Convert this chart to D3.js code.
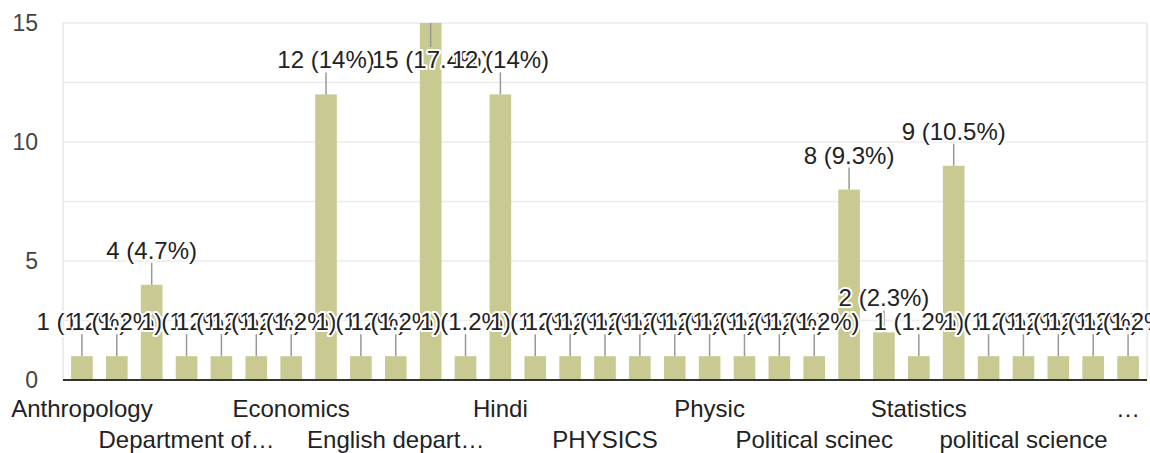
<!DOCTYPE html>
<html lang="en">
<head>
  <meta charset="UTF-8">
  <title>Department</title>
  <style>
    body { margin: 0; background: #fff; }
    text { font-family: Arial, "Liberation Sans", sans-serif; }
  </style>
</head>
<body>
  <svg id="svg" width="1150" height="453"></svg>

  <script src="https://d3js.org/d3.v7.min.js"></script>
  <script>
    // categories as shown on the axis (only every 3rd one is visible)
    const categories = [
      'Anthropology', 'Botany', 'Chemistry', 'Department of…', 'Dept. of English', 'Dept. of Hindi',
      'Economics', 'Education', 'English', 'English depart…', 'English Department', 'Geography',
      'Hindi', 'History', 'Mathematics', 'PHYSICS', 'Philosophy', 'Physical Education',
      'Physic', 'Physics', 'Political Science', 'Political scinec', 'Political science', 'Psychology',
      'Statistics', 'Zoology', 'economics', 'political science', 'physics', 'sociology', '…'
    ]
    const counts = [
      1, 1, 4, 1, 1, 1,
      1, 12, 1, 1, 15, 1,
      12, 1, 1, 1, 1, 1,
      1, 1, 1, 1, 8, 2,
      1, 9, 1, 1, 1, 1, 1
    ]
    const yTicks = [0, 5, 10, 15]
    const gridTicks = [0, 2.5, 5, 7.5, 10, 12.5, 15]

    const total = d3.sum(counts)
    const data = categories.map((c, i) => ({ name: c, value: counts[i] }))
    const pct = v => d3.format('.1~f')(v / total * 100) + '%'

    const mLeft = 64.5, mRight = 1145.5, mTop = 23, mBottom = 380
    const svg = d3.select('#svg')

    const x = d3.scaleBand()
      .domain(categories)
      .range([mLeft, mRight])
      .paddingInner(0.38)
      .paddingOuter(0.19)
    const y = d3.scaleLinear().domain([0, 15]).range([mBottom, mTop])

    // gridlines
    svg.append('g')
      .selectAll('line')
      .data(gridTicks)
      .join('line')
      .attr('x1', 63).attr('x2', 1147)
      .attr('y1', d => y(d)).attr('y2', d => y(d))
      .attr('stroke', '#ebebeb')
      .attr('stroke-width', 1.5)

    // frame sides
    svg.append('line').attr('x1', 63).attr('x2', 63).attr('y1', mTop).attr('y2', mBottom)
      .attr('stroke', '#e6e6e6').attr('stroke-width', 1.5)
    svg.append('line').attr('x1', 1147).attr('x2', 1147).attr('y1', mTop).attr('y2', mBottom)
      .attr('stroke', '#e6e6e6').attr('stroke-width', 1.5)

    // y axis labels
    svg.append('g')
      .selectAll('text')
      .data(yTicks)
      .join('text')
      .attr('x', 38)
      .attr('y', d => y(d) + 8)
      .attr('text-anchor', 'end')
      .attr('font-size', 23)
      .attr('fill', '#444')
      .text(d => d)

    // bars
    svg.append('g')
      .selectAll('rect')
      .data(data)
      .join('rect')
      .attr('x', d => x(d.name))
      .attr('width', x.bandwidth())
      .attr('y', d => y(d.value))
      .attr('height', d => mBottom - y(d.value))
      .attr('fill', '#c9c992')

    // baseline
    svg.append('line').attr('x1', 63).attr('x2', 1147).attr('y1', mBottom).attr('y2', mBottom)
      .attr('stroke', '#333').attr('stroke-width', 2)

    // annotations: stem + label, flipped inside the bar when no room above
    const stem = 22
    const flip = d => y(d.value) - stem - 4 - 17 < mTop
    const ann = svg.append('g')
      .selectAll('g')
      .data(data)
      .join('g')
      .attr('transform', d => `translate(${x(d.name) + x.bandwidth() / 2}, ${y(d.value)})`)

    ann.append('line')
      .attr('y1', 0)
      .attr('y2', d => flip(d) ? stem + 2 : -stem)
      .attr('stroke', '#999')
      .attr('stroke-width', 1.5)

    ann.append('text')
      .attr('y', d => flip(d) ? stem + 23 : -stem - 4)
      .attr('text-anchor', 'middle')
      .attr('font-size', 24)
      .attr('fill', '#222')
      .attr('stroke', '#fff')
      .attr('stroke-width', 4)
      .attr('stroke-linejoin', 'round')
      .attr('paint-order', 'stroke')
      .text(d => `${d.value} (${pct(d.value)})`)

    // x labels, every third category, two staggered rows
    svg.append('g')
      .selectAll('text')
      .data(categories.filter((c, i) => i % 3 === 0))
      .join('text')
      .attr('x', d => x(d) + x.bandwidth() / 2)
      .attr('y', (d, i) => i % 2 === 0 ? 417 : 448)
      .attr('text-anchor', 'middle')
      .attr('font-size', 24)
      .attr('fill', '#222')
      .text(d => d)
  </script>
</body>
</html>
